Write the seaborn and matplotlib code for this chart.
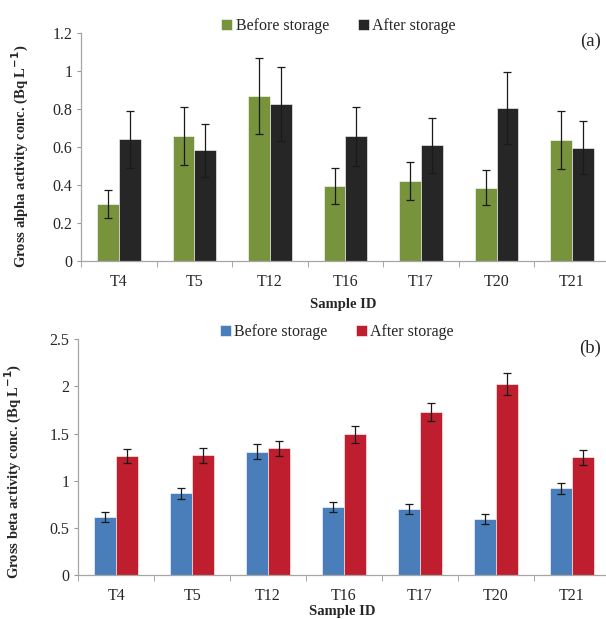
import pandas as pd
import matplotlib.pyplot as plt
import seaborn as sns
from matplotlib.ticker import FuncFormatter, FixedLocator

samples = ['T4', 'T5', 'T12', 'T16', 'T17', 'T20', 'T21']

alpha_before = [0.30, 0.656, 0.868, 0.395, 0.423, 0.387, 0.637]
alpha_before_err = [0.073, 0.152, 0.20, 0.094, 0.10, 0.091, 0.15]
alpha_after = [0.640, 0.582, 0.827, 0.656, 0.609, 0.805, 0.596]
alpha_after_err = [0.15, 0.137, 0.193, 0.155, 0.144, 0.187, 0.14]

beta_before = [0.612, 0.866, 1.305, 0.721, 0.700, 0.598, 0.919]
beta_before_err = [0.053, 0.056, 0.08, 0.053, 0.058, 0.053, 0.06]
beta_after = [1.259, 1.269, 1.344, 1.492, 1.729, 2.030, 1.248]
beta_after_err = [0.076, 0.078, 0.08, 0.09, 0.10, 0.117, 0.08]

sns.set_style('white')
plt.rcParams['font.family'] = ['Liberation Serif', 'DejaVu Serif']


def make_frame(before, before_err, after, after_err):
    df1 = pd.DataFrame({'sample': samples, 'value': before, 'err': before_err,
                        'storage': 'Before storage'})
    df2 = pd.DataFrame({'sample': samples, 'value': after, 'err': after_err,
                        'storage': 'After storage'})
    return pd.concat([df1, df2], ignore_index=True)


def draw_panel(ax, df, colors, ymax, ystep, ylabel, tag, ylab_xy, xpad):
    sns.barplot(data=df, x='sample', y='value', hue='storage', order=samples,
                hue_order=['Before storage', 'After storage'],
                palette=colors, width=0.58, errorbar=None, ax=ax,
                edgecolor='white', linewidth=0.4, saturation=1)
    # error bars from bar centers
    bars = [p for p in ax.patches if p.get_height() > 0]
    errs = list(df['err'])
    for p, e in zip(bars, errs):
        xc = p.get_x() + p.get_width() / 2
        ax.errorbar(xc, p.get_height(), yerr=e, color='#1a1a1a', capsize=3,
                    elinewidth=0.9, capthick=0.9, fmt='none')
    ax.set_ylim(0, ymax)
    ax.set_xlim(-0.5, 6.45)
    ticks = [i * ystep for i in range(int(round(ymax / ystep)) + 1)]
    ax.set_yticks(ticks)
    ax.yaxis.set_major_formatter(FuncFormatter(lambda v, p: '{:g}'.format(round(v, 2))))
    ax.xaxis.set_minor_locator(FixedLocator([i + 0.5 for i in range(-1, 7)]))
    ax.tick_params(axis='x', which='major', length=0, labelsize=11.5, pad=9)
    ax.tick_params(axis='x', which='minor', length=4, color='#999999', direction='out', bottom=True)
    ax.tick_params(axis='y', length=3, color='#999999', direction='out', left=True, labelsize=11.5)
    for s in ['top', 'right']:
        ax.spines[s].set_visible(False)
    for s in ['left', 'bottom']:
        ax.spines[s].set_color('#a6a6a6')
        ax.spines[s].set_linewidth(0.9)
    ax.set_xlabel('Sample ID', fontweight='bold', fontsize=10.5, labelpad=xpad)
    ax.set_ylabel(ylabel, fontweight='bold', fontsize=10.5)
    ax.yaxis.set_label_coords(*ylab_xy)
    ax.legend(loc='center', bbox_to_anchor=(0.49, 1.03), ncol=2, frameon=False,
              handlelength=0.7, handleheight=0.7, handletextpad=0.2,
              columnspacing=1.8, fontsize=11.5)
    ax.text(0.99, 1.0, tag, transform=ax.transAxes, ha='right', va='top', fontsize=13.5)


fig = plt.figure(figsize=(6.06, 6.19), dpi=100)
ax1 = fig.add_axes([0.134, 0.578, 0.866, 0.369])
ax2 = fig.add_axes([0.129, 0.071, 0.871, 0.381])

df_a = make_frame(alpha_before, alpha_before_err, alpha_after, alpha_after_err)
df_b = make_frame(beta_before, beta_before_err, beta_after, beta_after_err)

draw_panel(ax1, df_a, ['#77933C', '#262626'], 1.2, 0.2,
           'Gross alpha activity conc. (Bq L$^{\\mathbf{-1}}$)', '(a)', (-0.095, 0.46), 6)
draw_panel(ax2, df_b, ['#4A7EBB', '#BE1E2D'], 2.5, 0.5,
           'Gross beta activity conc. (Bq L$^{\\mathbf{-1}}$)', '(b)', (-0.102, 0.44), 1)

plt.savefig('out.png', dpi=100)
